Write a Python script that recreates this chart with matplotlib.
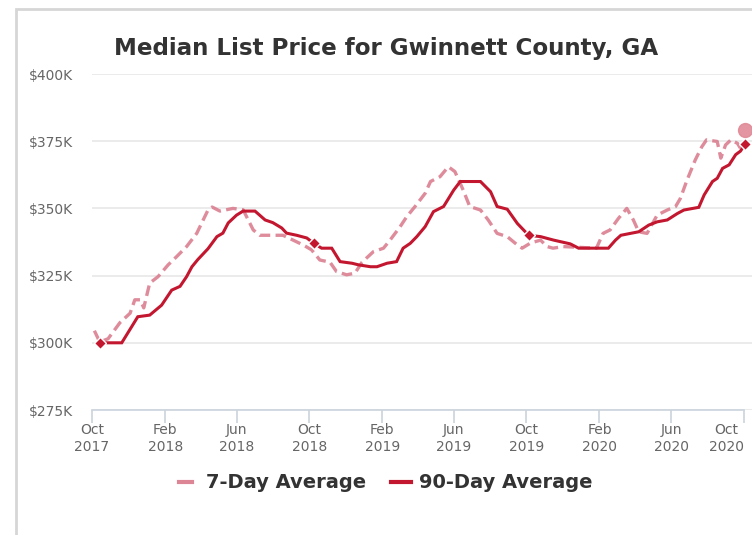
import matplotlib
matplotlib.use("Agg")
import matplotlib.pyplot as plt
import matplotlib.dates as mdates
from matplotlib.lines import Line2D
from matplotlib.patches import Rectangle
import pandas as pd

# ---------------- data ----------------
title = "Median List Price for Gwinnett County, GA"

dates_90 = ["2017-10-14", "2017-11-20", "2017-12-17", "2018-01-06", "2018-01-26", "2018-02-12",
            "2018-02-26", "2018-03-09", "2018-03-18", "2018-03-28", "2018-04-14", "2018-04-29",
            "2018-05-09", "2018-05-18", "2018-06-01", "2018-06-12", "2018-07-02", "2018-07-19",
            "2018-08-01", "2018-08-16", "2018-08-24", "2018-09-10", "2018-09-27", "2018-10-09",
            "2018-10-22", "2018-11-08", "2018-11-22", "2018-12-12", "2018-12-23", "2019-01-12",
            "2019-01-23", "2019-02-09", "2019-02-25", "2019-03-08", "2019-03-20", "2019-03-31",
            "2019-04-14", "2019-04-28", "2019-05-15", "2019-06-01", "2019-06-12", "2019-07-16",
            "2019-08-02", "2019-08-13", "2019-08-30", "2019-09-16", "2019-10-05", "2019-10-25",
            "2019-11-16", "2019-12-14", "2019-12-28", "2020-02-16", "2020-02-28", "2020-03-08",
            "2020-03-24", "2020-04-07", "2020-04-24", "2020-05-08", "2020-05-25", "2020-06-11",
            "2020-06-22", "2020-07-17", "2020-07-26", "2020-08-09", "2020-08-17", "2020-08-26",
            "2020-09-06", "2020-09-17", "2020-09-25", "2020-10-03"]
avg_90 = [300.0, 300.0, 309.7, 310.3, 314.0, 319.6,
          321.0, 324.6, 328.3, 331.0, 335.0, 339.5,
          340.8, 344.6, 347.5, 349.0, 349.0, 345.7,
          344.7, 342.7, 340.8, 340.0, 339.0, 337.0,
          335.2, 335.2, 330.2, 329.6, 329.0, 328.3,
          328.3, 329.6, 330.2, 335.2, 337.0, 339.5,
          343.2, 348.8, 350.7, 356.8, 360.0, 360.0,
          356.2, 350.7, 349.7, 344.4, 340.0, 339.5,
          338.2, 336.8, 335.2, 335.2, 338.2, 340.0,
          340.7, 341.3, 343.8, 345.0, 345.7, 348.1,
          349.4, 350.4, 355.0, 360.0, 361.2, 364.9,
          366.2, 370.0, 371.3, 374.0]
marked_90 = ["2017-10-14", "2018-10-09", "2019-10-05", "2020-10-03"]

dates_7 = ["2017-10-05", "2017-10-14", "2017-10-28", "2017-11-17", "2017-12-04", "2017-12-12",
           "2017-12-21", "2017-12-27", "2018-01-06", "2018-01-20", "2018-02-06", "2018-02-20",
           "2018-03-09", "2018-03-26", "2018-04-14", "2018-04-21", "2018-05-04", "2018-05-26",
           "2018-06-12", "2018-06-29", "2018-07-10", "2018-08-18", "2018-09-04", "2018-09-21",
           "2018-10-05", "2018-10-19", "2018-11-05", "2018-11-16", "2018-12-03", "2018-12-17",
           "2018-12-29", "2019-01-17", "2019-02-03", "2019-02-14", "2019-03-03", "2019-03-14",
           "2019-03-28", "2019-04-14", "2019-04-23", "2019-05-09", "2019-05-23", "2019-06-03",
           "2019-06-17", "2019-06-28", "2019-07-16", "2019-07-29", "2019-08-13", "2019-08-30",
           "2019-09-16", "2019-09-24", "2019-10-08", "2019-10-25", "2019-11-05", "2019-11-15",
           "2019-12-02", "2020-01-27", "2020-02-07", "2020-02-19", "2020-03-04", "2020-03-18",
           "2020-03-29", "2020-04-07", "2020-04-21", "2020-05-08", "2020-05-25", "2020-06-08",
           "2020-06-16", "2020-06-27", "2020-07-11", "2020-07-22", "2020-07-30", "2020-08-17",
           "2020-08-23", "2020-08-31", "2020-09-09", "2020-09-20", "2020-09-25"]
avg_7 = [304.5, 300.3, 301.5, 307.5, 311.0, 316.0,
         316.0, 313.0, 322.2, 324.6, 329.0, 332.0,
         335.8, 340.7, 349.4, 350.5, 349.0, 350.0,
         349.5, 342.0, 340.0, 340.0, 338.2, 336.4,
         334.6, 330.8, 330.0, 326.5, 325.3, 325.9,
         330.0, 333.9, 335.2, 338.2, 343.2, 346.9,
         350.7, 355.6, 360.0, 361.8, 365.5, 363.7,
         356.8, 350.7, 349.4, 345.7, 340.7, 339.5,
         336.4, 335.2, 337.1, 338.2, 335.8, 335.2,
         335.8, 335.2, 340.7, 342.0, 346.3, 350.0,
         345.7, 341.3, 340.7, 347.5, 349.4, 350.7,
         353.7, 360.4, 368.0, 372.9, 375.5, 374.9,
         368.7, 373.6, 375.5, 374.2, 372.4]
last_7_date = "2020-10-02"
last_7_value = 379.2

y_ticks = [275, 300, 325, 350, 375, 400]
y_labels = ["$275K", "$300K", "$325K", "$350K", "$375K", "$400K"]
x_ticks = ["2017-10-01", "2018-02-01", "2018-06-01", "2018-10-01", "2019-02-01",
           "2019-06-01", "2019-10-01", "2020-02-01", "2020-06-01", "2020-10-01"]
x_labels = ["Oct\n2017", "Feb\n2018", "Jun\n2018", "Oct\n2018", "Feb\n2019",
            "Jun\n2019", "Oct\n2019", "Feb\n2020", "Jun\n2020", "Oct\n2020"]
legend_labels = ["7-Day Average", "90-Day Average"]

# ---------------- style ----------------
RED = "#c3162f"
PINK = "#d9788a"
GRID = "#e6e6e6"
AXIS = "#ccd3dc"
LABEL = "#666666"
DARK = "#333333"

W, H = 752, 535
fig = plt.figure(figsize=(W / 100, H / 100), dpi=100)
plt.rcParams['font.family'] = ['DejaVu Sans']

# outer frame (only left/top visible)
fig.patches.append(Rectangle((16 / W, -0.1), 1.2, (H - 9) / H + 0.1, transform=fig.transFigure,
                             fill=False, edgecolor="#d6d6d6", linewidth=2))

x0_px, x1_px = 92, 752
y0_px, y1_px = 410, 74
ax = fig.add_axes([x0_px / W, (H - y0_px) / H, (x1_px - x0_px) / W, (y0_px - y1_px) / H])

d90 = pd.to_datetime(dates_90)
d7 = pd.to_datetime(dates_7)

start = pd.Timestamp("2017-10-01")
end = pd.Timestamp("2020-10-01")
px_per_day = (744 - 92) / (end - start).days
xmax = start + pd.Timedelta(days=(x1_px - x0_px) / px_per_day)
ax.set_xlim(start, xmax)
ax.set_ylim(275, 400)

ax.plot(d7, avg_7, color=PINK, lw=2.4, dashes=(3.2, 1.6), alpha=0.85, zorder=3,
        solid_capstyle="butt", clip_on=False)
ax.plot(d90, avg_90, color=RED, lw=2.2, zorder=4, clip_on=False, solid_joinstyle="miter")
mk = [avg_90[dates_90.index(d)] for d in marked_90]
ax.plot(pd.to_datetime(marked_90), mk, linestyle="none", marker="D", markersize=6.5,
        color=RED, markeredgecolor="white", markeredgewidth=1.0, zorder=5, clip_on=False)
ax.plot([pd.Timestamp(last_7_date)], [last_7_value], linestyle="none", marker="o",
        markersize=10, color="#e08a97", alpha=0.9, zorder=5, clip_on=False)

# axes styling
for s in ["top", "right", "left"]:
    ax.spines[s].set_visible(False)
ax.spines["bottom"].set_color(AXIS)
ax.spines["bottom"].set_linewidth(1.2)
ax.spines["bottom"].set_bounds(mdates.date2num(start), mdates.date2num(end))

ax.set_yticks(y_ticks)
ax.set_yticklabels(y_labels)
ax.tick_params(axis="y", length=0, pad=13.5, labelsize=10, labelcolor=LABEL)
ax.yaxis.grid(True, color=GRID, linewidth=1.1)
ax.set_axisbelow(True)

ax.set_xticks(pd.to_datetime(x_ticks))
ax.set_xticklabels(x_labels, linespacing=1.25)
ax.tick_params(axis="x", length=9, width=1.2, color=AXIS, pad=0.5, labelsize=10, labelcolor=LABEL)
last_lbl = ax.get_xticklabels()[-1]
last_lbl.set_horizontalalignment("right")
last_lbl.set_multialignment("center")

# title
fig.text(386 / W, 1 - 48 / H, title, ha="center", va="center", fontsize=16.6,
         fontweight="bold", color=DARK)

# legend (drawn manually to match short handles)
leg_y = 1 - 482 / H
fig.lines.append(Line2D([179 / W, 192 / W], [leg_y, leg_y], transform=fig.transFigure,
                        color=PINK, lw=3, alpha=0.9))
fig.text(206 / W, leg_y, legend_labels[0], ha="left", va="center", fontsize=14,
         fontweight="bold", color=DARK)
fig.lines.append(Line2D([391 / W, 411 / W], [leg_y, leg_y], transform=fig.transFigure,
                        color=RED, lw=3))
fig.text(419 / W, leg_y, legend_labels[1], ha="left", va="center", fontsize=14,
         fontweight="bold", color=DARK)

fig.savefig("out.png", dpi=100, facecolor="white")
